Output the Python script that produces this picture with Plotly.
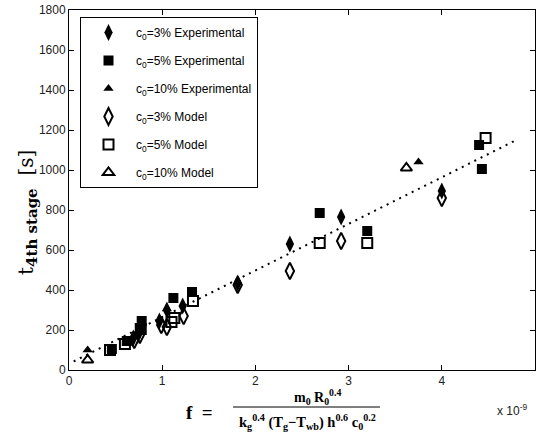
import plotly.graph_objects as go

# ---- data ----
exp3_x = [0.69, 0.75, 0.97, 1.05, 1.22, 1.81, 2.37, 2.92, 4.00]
exp3_y = [160, 185, 245, 300, 320, 435, 630, 765, 895]

mod3_x = [0.70, 0.76, 0.99, 1.05, 1.23, 1.81, 2.37, 2.92, 4.00]
mod3_y = [150, 175, 225, 215, 270, 425, 495, 645, 860]

exp5_x = [0.46, 0.62, 0.77, 0.78, 1.12, 1.32, 2.69, 3.20, 4.40, 4.43]
exp5_y = [105, 145, 200, 245, 360, 390, 785, 695, 1125, 1005]

mod5_x = [0.44, 0.60, 0.77, 1.10, 1.13, 1.33, 2.69, 3.20, 4.47]
mod5_y = [100, 130, 205, 240, 260, 345, 635, 635, 1160]

exp10_x = [0.20, 0.72, 1.05, 3.75]
exp10_y = [100, 170, 305, 1040]

mod10_x = [0.20, 3.62]
mod10_y = [50, 1010]

fit_x = [0.05, 4.8]
fit_y = [43, 1150]

x_ticks = [0, 1, 2, 3, 4, 5]
y_ticks = [0, 200, 400, 600, 800, 1000, 1200, 1400, 1600, 1800]

# ---- layout geometry (pixels) ----
W, H = 537, 443
L, R, T, B = 69, 2, 10, 73
PW, PH = W - L - R, H - T - B


def px(xp):
    return (xp - L) / PW


def py(yp):
    return (H - B - yp) / PH


fig = go.Figure()

fig.add_trace(go.Scatter(x=fit_x, y=fit_y, mode="lines",
                         line=dict(color="black", width=2, dash="2px,5px"),
                         showlegend=False, hoverinfo="skip"))

series = [
    ("c<sub>0</sub>=3% Experimental", exp3_x, exp3_y, "diamond-tall", 12, 0),
    ("c<sub>0</sub>=5% Experimental", exp5_x, exp5_y, "square", 10, 0),
    ("c<sub>0</sub>=10% Experimental", exp10_x, exp10_y, "triangle-up", 9, 0),
    ("c<sub>0</sub>=3% Model", mod3_x, mod3_y, "diamond-tall-open", 12, 2),
    ("c<sub>0</sub>=5% Model", mod5_x, mod5_y, "square-open", 10, 2),
    ("c<sub>0</sub>=10% Model", mod10_x, mod10_y, "triangle-up-open", 10, 2),
]

order = [3, 4, 5, 0, 1, 2]  # draw model (open) first, experimental on top
traces = {}
for i, (name, xs, ys, sym, size, lw) in enumerate(series):
    traces[i] = go.Scatter(
        x=xs, y=ys, mode="markers", name=name, legendgroup=f"g{i}",
        legendrank=i + 1,
        marker=dict(symbol=sym, size=size, color="black",
                    line=dict(color="black", width=lw)),
    )
for i in order:
    fig.add_trace(traces[i])

axis_common = dict(
    showline=True, linecolor="black", linewidth=1, mirror="ticks",
    ticks="inside", ticklen=5, tickcolor="black", showgrid=False,
    zeroline=False, tickfont=dict(family="Liberation Sans, Arial", size=12, color="#222"),
)

fig.update_xaxes(range=[0, 5], tickvals=x_ticks,
                 ticktext=[str(v) for v in x_ticks], **axis_common)
fig.update_yaxes(range=[0, 1800], tickvals=y_ticks,
                 ticktext=[str(v) for v in y_ticks], **axis_common)

serif = "Liberation Serif, DejaVu Serif, Times New Roman, serif"
yserif = "DejaVu Serif, Liberation Serif, serif"


def ann(x, y, text, size, family=serif, angle=0, xanchor="center"):
    return dict(x=px(x), y=py(y), xref="paper", yref="paper", text=text,
                showarrow=False, textangle=angle, xanchor=xanchor,
                yanchor="middle", font=dict(family=family, size=size, color="black"))


annotations = [
    ann(27, 213, "t<sub><span style='font-size:15px'><b>4th stage</b></span></sub>  [s]",
        20, family=yserif, angle=-90),
    ann(199, 412, "<b>f  =</b>", 19),
    ann(317, 397, "<b>m<sub>0</sub> R<sub>0</sub><sup>0.4</sup></b>", 14),
    ann(307, 422,
        "<b>k<sub>g</sub><sup>0.4</sup> (T<sub>g</sub>\u2212T<sub>wb</sub>) h<sup>0.6</sup> c<sub>0</sub><sup>0.2</sup></b>",
        14.5),
    dict(x=px(529), y=py(410), xref="paper", yref="paper", xanchor="right",
         yanchor="middle", text="x 10<sup>-9</sup>", showarrow=False,
         font=dict(family="Liberation Sans, Arial", size=12, color="#222")),
]

shapes = [
    dict(type="line", xref="paper", yref="paper",
         x0=px(233), x1=px(380), y0=py(407), y1=py(407),
         line=dict(color="black", width=1)),
]

fig.update_layout(
    width=W, height=H,
    margin=dict(l=L, r=R, t=T, b=B),
    paper_bgcolor="white", plot_bgcolor="white",
    annotations=annotations, shapes=shapes,
    legend=dict(x=px(80), y=py(17), xanchor="left", yanchor="top",
                bgcolor="white", bordercolor="black", borderwidth=1,
                font=dict(family="Liberation Sans, Arial", size=12, color="black"),
                tracegroupgap=9, itemwidth=45),
)

fig.write_html("out.html", config={"displayModeBar": False},
               post_script="document.body.style.margin='0';document.body.style.padding='0';")
